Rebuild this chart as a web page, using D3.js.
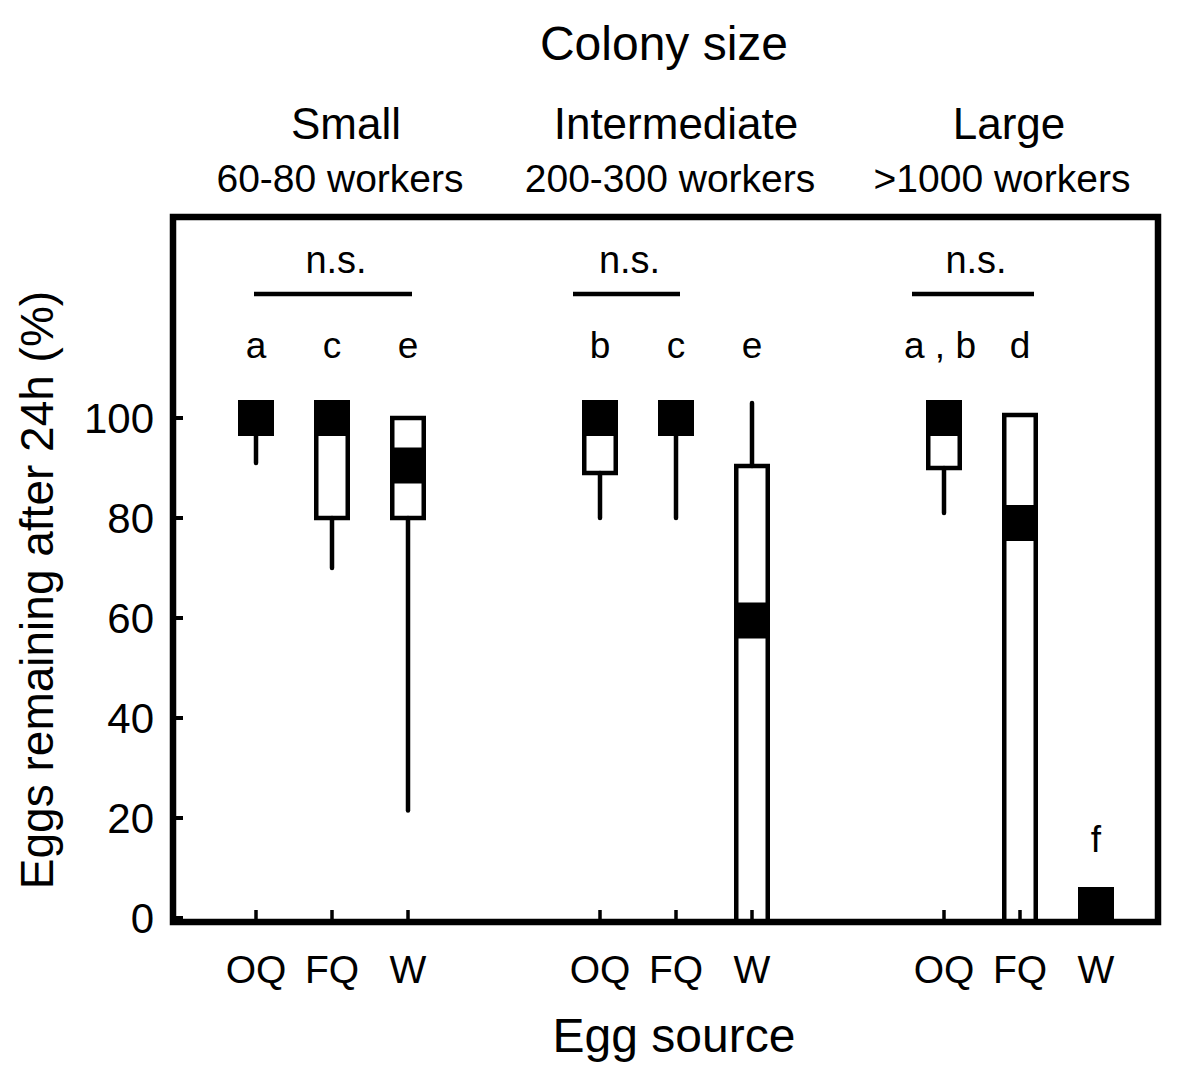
<!DOCTYPE html>
<html><head><meta charset="utf-8">
<script src="https://cdn.jsdelivr.net/npm/d3@7"></script>
<style>body{margin:0;background:#fff}svg text{font-family:"Liberation Sans",Arial,sans-serif;fill:#000}</style>
</head><body>
<svg id="c" width="1200" height="1069"></svg>
<script>
// ---- data ----
const groups = ["Small", "Intermediate", "Large"];
const groupSub = ["60-80 workers", "200-300 workers", ">1000 workers"];
const sources = ["OQ", "FQ", "W"];
// per group, per source (OQ, FQ, W)
const lowWhisker  = [[91, 70, 21.5], [80, 80, 0],   [81, 0, 0]];
const q1Values    = [[100, 80, 80],  [89, 100, 0],  [90, 0, 0]];
const medians     = [[100, 100, 90.5], [100, 100, 59.5], [100, 79, 2.6]];
const q3Values    = [[100, 100, 100], [100, 100, 90.4], [100, 100.6, 2.6]];
const highWhisker = [[100, 100, 100], [100, 100, 103], [100, 100.6, 2.6]];
const sigLetters  = [["a", "c", "e"], ["b", "c", "e"], ["a , b", "d", "f"]];
const yTicks = [0, 20, 40, 60, 80, 100];

// ---- layout ----
const svg = d3.select("#c");
const frame = {left: 173, right: 1158, top: 217, bottom: 922};
const y = d3.scaleLinear().domain([0, 100]).range([918, 418]);
const xGroup = d3.scaleBand().domain(groups).range([160, 1192]);
const xSrc = d3.scalePoint().domain(sources).range([-76, 76]);
const X = (g, s) => xGroup(g) + xGroup.bandwidth() / 2 + xSrc(s);
const gc = g => xGroup(g) + xGroup.bandwidth() / 2;

const boxes = [];
groups.forEach((g, gi) => sources.forEach((s, si) => boxes.push({
  g, s, lo: lowWhisker[gi][si], q1: q1Values[gi][si], med: medians[gi][si],
  q3: q3Values[gi][si], hi: highWhisker[gi][si], letter: sigLetters[gi][si]
})));

const boxW = 31.5, bandH = 36, sw = 4.5;

// whiskers
const wk = svg.append("g").attr("stroke", "#000").attr("stroke-width", sw).attr("stroke-linecap", "round");
boxes.forEach(d => {
  if (d.hi > d.q3) wk.append("line").attr("x1", X(d.g, d.s)).attr("x2", X(d.g, d.s)).attr("y1", y(d.q3)).attr("y2", y(d.hi));
  if (d.lo < d.q1) wk.append("line").attr("x1", X(d.g, d.s)).attr("x2", X(d.g, d.s)).attr("y1", y(d.q1)).attr("y2", y(d.lo));
});
// boxes (bottom edge omitted when the box reaches the axis)
svg.append("g").selectAll("path").data(boxes.filter(d => d.q3 > d.q1)).join("path")
  .attr("d", d => {
    const x0 = X(d.g, d.s) - boxW / 2, x1 = X(d.g, d.s) + boxW / 2, yt = y(d.q3), yb = y(d.q1);
    return d.q1 > 0 ? `M${x0},${yt}H${x1}V${yb}H${x0}Z` : `M${x0},${yb + 3}V${yt}H${x1}V${yb + 3}`;
  })
  .attr("fill", "none").attr("stroke", "#000").attr("stroke-width", sw);
// median bands
svg.append("g").selectAll("rect").data(boxes).join("rect")
  .attr("x", d => X(d.g, d.s) - (boxW + sw) / 2).attr("width", boxW + sw)
  .attr("y", d => y(d.med) - bandH / 2).attr("height", bandH).attr("fill", "#000");

// frame
svg.append("rect").attr("x", frame.left).attr("y", frame.top)
  .attr("width", frame.right - frame.left).attr("height", frame.bottom - frame.top)
  .attr("fill", "none").attr("stroke", "#000").attr("stroke-width", 6.5);
// y ticks
svg.append("g").selectAll("line").data(yTicks).join("line")
  .attr("x1", frame.left).attr("x2", frame.left + 10).attr("y1", d => y(d)).attr("y2", d => y(d))
  .attr("stroke", "#000").attr("stroke-width", 4);
svg.append("g").selectAll("text").data(yTicks).join("text")
  .attr("x", 154).attr("y", d => y(d) + 15).attr("text-anchor", "end")
  .attr("font-size", 42).text(d => d);
// x ticks
svg.append("g").selectAll("line").data(boxes).join("line")
  .attr("x1", d => X(d.g, d.s)).attr("x2", d => X(d.g, d.s)).attr("y1", frame.bottom).attr("y2", 910)
  .attr("stroke", "#000").attr("stroke-width", 3.5);
svg.append("g").selectAll("text").data(boxes).join("text")
  .attr("x", d => X(d.g, d.s)).attr("y", 983).attr("text-anchor", "middle")
  .attr("font-size", 39).text(d => d.s);

// letters
svg.append("g").selectAll("text").data(boxes).join("text")
  .attr("x", d => X(d.g, d.s) - (d.letter.length > 1 ? 4 : 0))
  .attr("y", d => d.hi < 50 ? y(d.med) - bandH / 2 - 35 : 358)
  .attr("text-anchor", "middle").attr("font-size", 37).text(d => d.letter);

// n.s. spans
const nsSpans = [
  {g: "Small", from: "OQ", to: "W", padL: 2, padR: 4},
  {g: "Intermediate", from: "OQ", to: "FQ", padL: 27, padR: 4},
  {g: "Large", from: "OQ", to: "FQ", padL: 32, padR: 14}
];
nsSpans.forEach(n => {
  const x1 = X(n.g, n.from) - n.padL, x2 = X(n.g, n.to) + n.padR;
  svg.append("line").attr("x1", x1).attr("x2", x2).attr("y1", 294).attr("y2", 294)
    .attr("stroke", "#000").attr("stroke-width", 4.5);
  svg.append("text").attr("x", (x1 + x2) / 2 + 3).attr("y", 273).attr("text-anchor", "middle")
    .attr("font-size", 38).text("n.s.");
});

// headers
const hdrOff = [14, 0, -11];
const subOff = [8, -6, -18];
groups.forEach((g, i) => {
  svg.append("text").attr("x", gc(g) + hdrOff[i]).attr("y", 139).attr("text-anchor", "middle")
    .attr("font-size", 44).text(g);
  svg.append("text").attr("x", gc(g) + subOff[i]).attr("y", 192).attr("text-anchor", "middle")
    .attr("font-size", 39).text(groupSub[i]);
});
svg.append("text").attr("x", 664).attr("y", 60).attr("text-anchor", "middle").attr("font-size", 48).text("Colony size");
svg.append("text").attr("x", 674).attr("y", 1052).attr("text-anchor", "middle").attr("font-size", 48).text("Egg source");
svg.append("text").attr("transform", "translate(53,590) rotate(-90)").attr("text-anchor", "middle")
  .attr("font-size", 46).text("Eggs remaining after 24h (%)");
</script>
</body></html>
